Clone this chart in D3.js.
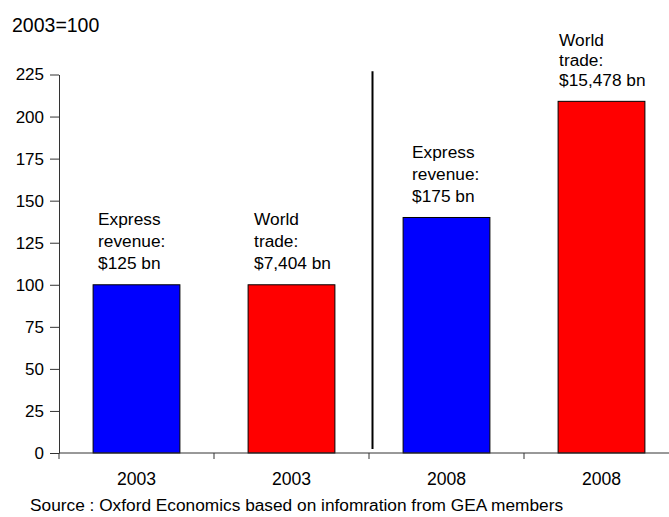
<!DOCTYPE html>
<html>
<head>
<meta charset="utf-8">
<script src="https://cdn.jsdelivr.net/npm/d3@7"></script>
<style>
  html, body { margin: 0; padding: 0; background: #fff; }
  svg { display: block; font-family: Arial, "Liberation Sans", sans-serif; }
</style>
</head>
<body>
<svg id="chart" width="669" height="517"></svg>
<script>
// ---- data ----
const categories = ["2003", "2003", "2008", "2008"];
const values = [100, 100, 140, 209.05];
const barColors = ["#0000FF", "#FF0000", "#0000FF", "#FF0000"];
const barLabels = [
  ["Express", "revenue:", "$125 bn"],
  ["World", "trade:", "$7,404 bn"],
  ["Express", "revenue:", "$175 bn"],
  ["World", "trade:", "$15,478 bn"]
];
const yTicks = [0, 25, 50, 75, 100, 125, 150, 175, 200, 225];
const indexLabel = "2003=100";
const sourceText = "Source : Oxford Economics based on infomration from GEA members";

// ---- layout ----
const labelDx = [5, 6, 9, 1];
const labelLh = [22, 22, 22, 20];
const svg = d3.select("#chart");
const mLeft = 59, mRight = 679, mTop = 74.5, mBottom = 453;
const fs = 17.3;

const x = d3.scaleBand().domain(d3.range(categories.length))
  .range([mLeft, mRight]).paddingInner(0.44).paddingOuter(0.22);
const y = d3.scaleLinear().domain([0, 225]).range([mBottom, mTop]);

// bars
svg.append("g").selectAll("rect").data(values).join("rect")
  .attr("x", (d, i) => x(i))
  .attr("y", d => y(d))
  .attr("width", x.bandwidth())
  .attr("height", d => y(0) - y(d))
  .attr("fill", (d, i) => barColors[i])
  .attr("stroke", "#000")
  .attr("stroke-width", 1);

// y axis
const yAxis = svg.append("g").attr("transform", `translate(${mLeft},0)`)
  .call(d3.axisLeft(y).tickValues(yTicks).tickSize(9).tickPadding(6).tickSizeOuter(0));
yAxis.select(".domain").attr("stroke", "#333");
yAxis.selectAll(".tick line").attr("stroke", "#333");
yAxis.selectAll("text").attr("font-size", 17).attr("fill", "#000")
  .attr("font-family", "Arial, 'Liberation Sans', sans-serif");

// x axis
const step = x.step();
const xAxis = svg.append("g").attr("transform", `translate(0,${mBottom})`);
xAxis.append("line").attr("x1", mLeft).attr("x2", mRight).attr("y1", 0).attr("y2", 0)
  .attr("stroke", "#333");
xAxis.selectAll("line.tk").data(d3.range(categories.length + 1)).join("line")
  .attr("class", "tk")
  .attr("x1", i => mLeft + i * step).attr("x2", i => mLeft + i * step)
  .attr("y1", 0).attr("y2", 6).attr("stroke", "#333");
xAxis.selectAll("text").data(categories).join("text")
  .attr("x", (d, i) => x(i) + x.bandwidth() / 2)
  .attr("y", 32)
  .attr("text-anchor", "middle")
  .attr("font-size", 17.6)
  .text(d => d);

// separator line
svg.append("line")
  .attr("x1", mLeft + 2 * step + 3.5).attr("x2", mLeft + 2 * step + 3.5)
  .attr("y1", y(227)).attr("y2", y(2.4))
  .attr("stroke", "#000").attr("stroke-width", 2);

// bar annotations
barLabels.forEach((lines, i) => {
  const base = y(values[i]) - 15.5;
  const t = svg.append("text").attr("font-size", fs).attr("fill", "#000");
  lines.forEach((ln, k) => {
    t.append("tspan")
      .attr("x", x(i) + labelDx[i])
      .attr("y", base - (lines.length - 1 - k) * labelLh[i])
      .text(ln);
  });
});

// index label
svg.append("text").attr("x", 12).attr("y", 31.5).attr("font-size", 19.5).text(indexLabel);

// source
svg.append("text").attr("x", 30).attr("y", 510.5).attr("font-size", fs).text(sourceText);
</script>
</body>
</html>
